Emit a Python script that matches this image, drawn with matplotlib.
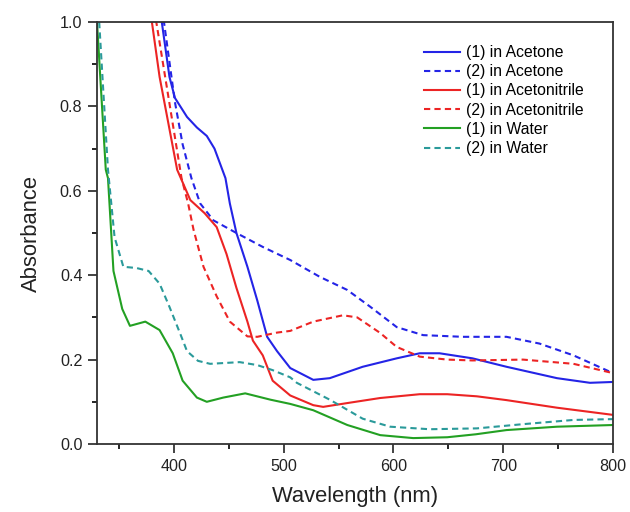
import numpy as np
import matplotlib
matplotlib.use("Agg")
import matplotlib.pyplot as plt
from matplotlib.ticker import MultipleLocator

plt.rcParams['font.family'] = ['Liberation Sans', 'DejaVu Sans']

# (1) in Acetone
wl_ac1 = [385, 389, 396, 401, 412, 421, 430, 437, 447, 451, 457, 467, 476, 485, 494, 506,
          527, 542, 572, 603, 624, 642, 672, 703, 749, 779, 800]
ab_ac1 = [1.08, 1.0, 0.87, 0.82, 0.775, 0.75, 0.73, 0.70, 0.63, 0.57, 0.50, 0.42, 0.34, 0.254, 0.22, 0.18,
          0.152, 0.156, 0.183, 0.203, 0.215, 0.215, 0.203, 0.183, 0.156, 0.145, 0.147]
# (2) in Acetone
wl_ac2 = [387, 391, 401, 408, 416, 424, 436, 457, 481, 506, 533, 558, 579, 603, 627, 663,
          703, 733, 764, 800]
ab_ac2 = [1.08, 1.0, 0.81, 0.71, 0.63, 0.57, 0.53, 0.50, 0.467, 0.436, 0.396, 0.365, 0.325, 0.277, 0.258, 0.254,
          0.254, 0.238, 0.21, 0.168]
# (1) in Acetonitrile
wl_an1 = [377, 380, 387, 403, 415, 428, 439, 448, 457, 467, 472, 481, 490, 506, 527, 536,
          558, 588, 624, 649, 676, 703, 749, 800]
ab_an1 = [1.08, 1.0, 0.87, 0.65, 0.578, 0.547, 0.514, 0.45, 0.37, 0.29, 0.245, 0.21, 0.15, 0.115, 0.092, 0.088,
          0.097, 0.109, 0.118, 0.118, 0.113, 0.104, 0.086, 0.069]
# (2) in Acetonitrile
wl_an2 = [381, 384, 407, 413, 418, 427, 439, 451, 467, 476, 494, 506, 527, 554, 567, 588,
          603, 624, 649, 672, 718, 764, 800]
ab_an2 = [1.08, 1.0, 0.63, 0.57, 0.507, 0.42, 0.35, 0.29, 0.255, 0.254, 0.264, 0.268, 0.29, 0.305, 0.30, 0.263,
          0.23, 0.207, 0.20, 0.198, 0.20, 0.19, 0.168]
# (1) in Water
wl_w1 = [330, 338, 340, 345, 353, 360, 374, 387, 399, 408, 421, 430, 445, 465, 488, 506,
         527, 558, 588, 618, 649, 675, 703, 749, 800]
ab_w1 = [1.0, 0.65, 0.63, 0.41, 0.32, 0.28, 0.29, 0.27, 0.215, 0.15, 0.11, 0.10, 0.11, 0.12, 0.105, 0.095,
         0.08, 0.045, 0.021, 0.014, 0.016, 0.023, 0.033, 0.041, 0.045]
# (2) in Water
wl_w2 = [332, 340, 346, 354, 366, 377, 387, 396, 406, 412, 422, 433, 460, 476, 490, 506,
         512, 542, 572, 597, 633, 676, 718, 764, 800]
ab_w2 = [1.0, 0.65, 0.49, 0.42, 0.417, 0.41, 0.38, 0.325, 0.26, 0.22, 0.197, 0.19, 0.194, 0.187, 0.175, 0.158,
         0.145, 0.105, 0.06, 0.041, 0.035, 0.037, 0.047, 0.057, 0.059]

blue = '#2424e6'
red = '#ec2424'
green = '#23a023'
teal = '#2a9a9a'

fig = plt.figure(figsize=(6.3, 5.12), dpi=100)
ax = fig.add_axes([97/630, 1-444/512, 516/630, 422/512])

dash = (0, (3, 2))
ax.plot(wl_ac1, ab_ac1, color=blue, lw=1.5, label='(1) in Acetone')
ax.plot(wl_ac2, ab_ac2, color=blue, lw=1.5, ls=dash, label='(2) in Acetone')
ax.plot(wl_an1, ab_an1, color=red, lw=1.5, label='(1) in Acetonitrile')
ax.plot(wl_an2, ab_an2, color=red, lw=1.5, ls=dash, label='(2) in Acetonitrile')
ax.plot(wl_w1, ab_w1, color=green, lw=1.5, label='(1) in Water')
ax.plot(wl_w2, ab_w2, color=teal, lw=1.5, ls=dash, label='(2) in Water')

ax.set_xlim(330, 800)
ax.set_ylim(0, 1.0)
ax.xaxis.set_major_locator(MultipleLocator(100))
ax.xaxis.set_minor_locator(MultipleLocator(50))
ax.yaxis.set_major_locator(MultipleLocator(0.2))
ax.yaxis.set_minor_locator(MultipleLocator(0.1))
ax.yaxis.set_major_formatter(matplotlib.ticker.FormatStrFormatter('%.1f'))
ax.tick_params(which='major', direction='out', length=6.5, width=1.2, labelsize=11.6,
               colors='#222222', pad=4)
ax.tick_params(which='minor', direction='out', length=3.5, width=1.2)
for s in ax.spines.values():
    s.set_linewidth(1.3)
    s.set_color('#333333')

ax.set_xlabel('Wavelength (nm)', fontsize=15.8, color='#222222', labelpad=9)
ax.set_ylabel('Absorbance', fontsize=15.8, color='#222222', labelpad=13)

ax.legend(loc='upper left', bbox_to_anchor=(424/630, 1-45/512), bbox_transform=fig.transFigure,
          frameon=False, fontsize=11.3, handlelength=2.3, handletextpad=0.38,
          labelspacing=0.27, borderpad=0, borderaxespad=0)

fig.savefig('out.png', dpi=100)
